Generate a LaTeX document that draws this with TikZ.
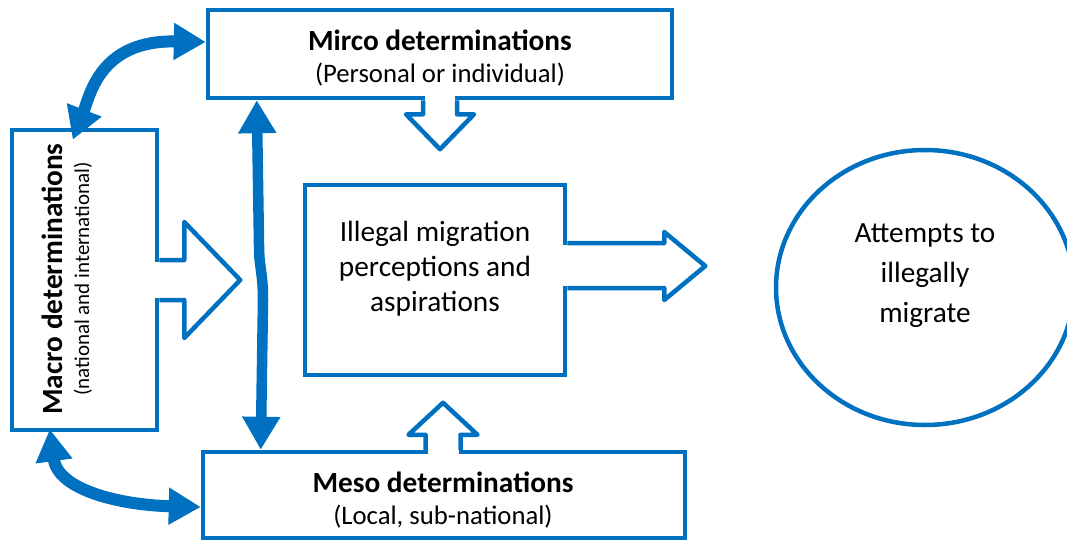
\documentclass[tikz,border=0pt]{standalone}
\usepackage{fontspec}
\setmainfont{Carlito}
\usetikzlibrary{arrows.meta,calc,shapes.geometric}
\definecolor{obl}{HTML}{0070C0}
\begin{document}
\begin{tikzpicture}[x=1pt,y=-1pt,
  box/.style={draw=obl, line width=4.5pt, fill=white, inner sep=0pt, rectangle},
  outl/.style={draw=obl, line width=4.5pt, line join=round, fill=white},
  gap/.style={fill=white, draw=none},
  dbl/.style={draw=obl, line width=12pt, {Triangle[length=32pt,width=35pt]}-{Triangle[length=32pt,width=35pt]}},
  vdbl/.style={draw=obl, line width=10.5pt, {Triangle[length=33pt,width=36pt]}-{Triangle[length=33pt,width=36pt]}},
  ttl/.style={font=\bfseries\fontsize{29.3}{35}\selectfont, inner sep=0pt},
  subt/.style={font=\fontsize{26.7}{32}\selectfont, inner sep=0pt},
  body/.style={font=\fontsize{29.3}{35}\selectfont, align=center, inner sep=0pt}
]
\useasboundingbox (0,0) rectangle (1067,546);

% boxes
\node[box, minimum width=145pt, minimum height=300pt] (macro) at (84.5,280) {};
\node[box, minimum width=464pt, minimum height=88pt] (micro) at (440,54) {};
\node[box, minimum width=260pt, minimum height=190pt] (illegal) at (435,280) {};
\node[box, minimum width=482pt, minimum height=86pt] (meso) at (444,495) {};
\node[draw=obl, line width=4.5pt, ellipse, minimum width=298pt, minimum height=275pt, inner sep=0pt] (attempt) at (925,287.5) {};

% block arrows
\fill[gap] ($(macro.east)+(-4,-18)$) rectangle ($(macro.east)+(4,18)$);
\draw[outl] ($(macro.east)+(0,-20)$) -- ++(25,0) -- ++(0,-38) -- ($(macro.east)+(81,0)$) -- ($(macro.east)+(25,58)$) -- ++(0,-38) -- ($(macro.east)+(0,20)$);

\fill[gap] ($(illegal.east)+(-4,-35)$) rectangle ($(illegal.east)+(4,6)$);
\draw[outl] ($(illegal.east)+(0,-37)$) -- ++(97,0) -- ++(0,-11) -- ($(illegal.east)+(138,-14)$) -- ($(illegal.east)+(97,20)$) -- ++(0,-12) -- ($(illegal.east)+(0,8)$);

\fill[gap] ($(micro.south)+(-15,-4)$) rectangle ($(micro.south)+(15,4)$);
\draw[outl] ($(micro.south)+(-17,0)$) -- ++(0,14) -- ++(-17,0) -- ($(micro.south)+(0,49)$) -- ($(micro.south)+(34,14)$) -- ++(-17,0) -- ($(micro.south)+(17,0)$);

\fill[gap] ($(meso.north)+(-16.5,-4)$) rectangle ($(meso.north)+(14.5,4)$);
\draw[outl] ($(meso.north)+(-18.5,0)$) -- ++(0,-15) -- ++(-17,0) -- ($(meso.north)+(-1,-47)$) -- ($(meso.north)+(33.5,-15)$) -- ++(-17,0) -- ($(meso.north)+(16.5,0)$);

% texts
\node[ttl, anchor=base] (microt) at (440,50) {Mirco determinations};
\node[subt, anchor=base] (micros) at (440,82) {(Personal or individual)};
\node[ttl, anchor=base] (mesot) at (443,492) {Meso determinations};
\node[subt, anchor=base] (mesos) at (443,524) {(Local, sub-national)};
\node[ttl, anchor=base, rotate=90] (macrot) at (62,279) {Macro determinations};
\node[font=\fontsize{21}{25}\selectfont, inner sep=0pt, anchor=base, rotate=90] (macros) at (89,279) {(national and international)};
\node[body] (illt) at (435,269) {Illegal migration\\perceptions and\\aspirations};
\node[body, font=\fontsize{29.3}{40}\selectfont] (attt) at (925,276) {Attempts to\\illegally\\migrate};

% thick double arrows
\draw[dbl] ([yshift=12pt]micro.west) .. controls (100,40) and (90,95) .. ([xshift=63pt,yshift=-12pt]macro.north west);
\draw[dbl] ([xshift=40pt,yshift=3pt]macro.south west) .. controls (58,490) and (120,505) .. ([yshift=-12pt]meso.west);
\draw[vdbl] ([xshift=51pt]micro.south west) -- (259,245) .. controls (259,268) and (263,272) .. (263,300) -- ([xshift=60pt]meso.north west);
\end{tikzpicture}
\end{document}
